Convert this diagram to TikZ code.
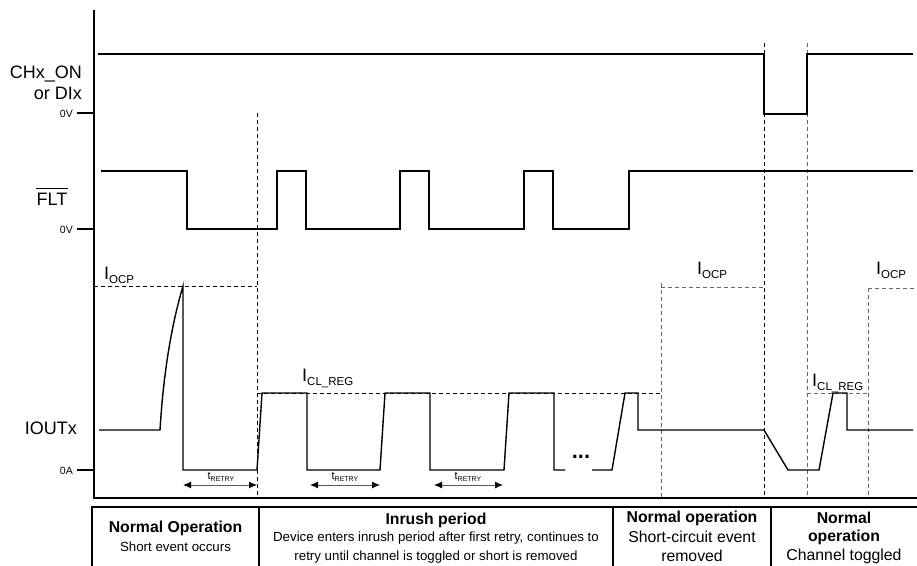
\documentclass[tikz,border=0pt]{standalone}
\usepackage{fontspec}
\setmainfont{Liberation Sans}
\usetikzlibrary{arrows.meta}
\newcommand\Isub[1]{I\raisebox{-4.5pt}{\fontsize{11.5}{12}\selectfont #1}}
\newcommand\tret{{\fontsize{11}{11}\selectfont t}\raisebox{-1.5pt}{\fontsize{7}{7}\selectfont RETRY}}
\begin{document}
\begin{tikzpicture}[x=1pt,y=-1pt,
  wave/.style={line width=1.4pt, black, line join=miter},
  dsh/.style={line width=1pt, dash pattern=on 4pt off 3pt, black},
  dshg/.style={line width=1pt, dash pattern=on 4pt off 3pt, black!60},
  big/.style={font=\fontsize{18}{20}\selectfont, inner sep=0pt},
  tiny/.style={font=\fontsize{10.5}{11}\selectfont, inner sep=0pt},
  tarrow/.style={{Latex[length=8pt,width=7pt,black]}-{Latex[length=8pt,width=7pt,black]}, line width=1pt, draw=black!65},
  hd/.style={font=\fontsize{15.8}{18}\selectfont\bfseries, inner sep=0pt},
  bd/.style={font=\fontsize{13.3}{15}\selectfont, inner sep=0pt},
  bdl/.style={font=\fontsize{15.8}{18}\selectfont, inner sep=0pt},
  frame/.style={line width=2pt, black}
]
\useasboundingbox (0,0) rectangle (917,565);
\clip (0,0) rectangle (917,565);

% axes and ticks
\draw[frame] (94,10) -- (94,498) -- (917,498);
\draw[frame] (77,113) -- (94,113);
\draw[frame] (77,229) -- (94,229);
\draw[frame] (77,470) -- (94,470);

% signal labels
\node[big, anchor=base east] (chx) at (82,78) {CHx\_ON};
\node[big, anchor=base east] (dix) at (82,99) {or DIx};
\node[tiny, anchor=base east] (v0a) at (73,117) {0V};
\node[big, anchor=base] (flt) at (52,205) {FLT};
\draw[line width=1pt] ([yshift=4pt]flt.north west) -- ([yshift=4pt]flt.north east);
\node[tiny, anchor=base east] (v0b) at (73,233) {0V};
\node[big, anchor=base east] (iout) at (77,434) {IOUTx};
\node[tiny, anchor=base east] (a0) at (73,474) {0A};

% dashed guides
\draw[dsh] (257,113) -- (257,498);
\draw[dsh] (94,286) -- (257,286);
\draw[dsh] (257,393) -- (661,393);
\draw[dshg] (661,283) -- (661,498);
\draw[dshg] (661,287) -- (764,287);
\draw[dsh] (764,43) -- (764,498);
\draw[dshg] (807,43) -- (807,498);
\draw[dshg] (807,393) -- (868,393);
\draw[dshg] (868,288) -- (868,498);
\draw[dshg] (868,288) -- (917,288);

% current labels
\node[big, anchor=base west] (iocp1) at (104,279) {\Isub{OCP}};
\node[big, anchor=base west] (iocp2) at (697,274) {\Isub{OCP}};
\node[big, anchor=base west] (iocp3) at (876,274) {\Isub{OCP}};
\node[big, anchor=base west] (icl1) at (302,381) {\Isub{CL\_REG}};
\node[big, anchor=base west] (icl2) at (812,386) {\Isub{CL\_REG}};

% waveforms
\draw[wave] (98,54) -- (764,54) -- (764,114) -- (807,114) -- (807,54) -- (913,54);
\draw[wave] (101,171) -- (187,171) -- (187,229) -- (277,229) -- (277,171) -- (306,171) -- (306,229)
  -- (400,229) -- (400,171) -- (429,171) -- (429,229) -- (524,229) -- (524,171) -- (553,171)
  -- (553,229) -- (629,229) -- (629,171) -- (913,171);
\draw[wave] (99,430) -- (160,430) .. controls (163,380) and (170,330) .. (183,286) -- (183,470)
  -- (257,470) -- (262,393) -- (307,393) -- (307,470) -- (380,470) -- (385,393) -- (430,393)
  -- (430,470) -- (504,470) -- (509,393) -- (554,393) -- (554,470) -- (565,470);
\draw[wave] (592,470) -- (612,470) -- (625,393) -- (638,393) -- (638,430) -- (764,430)
  -- (788,470) -- (819,470) -- (833,393) -- (847,393) -- (847,430) -- (913,430);
\node[font=\fontsize{22}{22}\selectfont\bfseries, inner sep=0pt] (dots) at (581,457) {...};

% retry times
\coordinate (r1a) at (183,485); \coordinate (r1b) at (257,485);
\coordinate (r2a) at (310,485); \coordinate (r2b) at (380,485);
\coordinate (r3a) at (434,485); \coordinate (r3b) at (503,485);
\draw[tarrow] (r1a) -- (r1b);
\draw[tarrow] (r2a) -- (r2b);
\draw[tarrow] (r3a) -- (r3b);
\node[inner sep=0pt] (t1) at (221,477) {\tret};
\node[inner sep=0pt] (t2) at (345,477) {\tret};
\node[inner sep=0pt] (t3) at (468,477) {\tret};

% table
\draw[frame] (92,575) -- (92,507) -- (917,507);
\draw[frame] (259,507) -- (259,575);
\draw[frame] (613,507) -- (613,575);
\draw[frame] (771,507) -- (771,575);

\node[hd] (c1h) at (175.5,528) {Normal Operation};
\node[bd] (c1b) at (175.5,547) {Short event occurs};
\node[hd] (c2h) at (436,520) {Inrush period};
\node[bd] (c2b) at (436,538.5) {Device enters inrush period after first retry, continues to};
\node[bd] (c2c) at (436,557) {retry until channel is toggled or short is removed};
\node[hd] (c3h) at (692,518) {Normal operation};
\node[bdl] (c3b) at (692,537) {Short-circuit event};
\node[bdl] (c3c) at (692,556) {removed};
\node[hd] (c4h) at (844,518) {Normal};
\node[hd] (c4b) at (844,537) {operation};
\node[bdl] (c4c) at (844,556) {Channel toggled};
\end{tikzpicture}
\end{document}
